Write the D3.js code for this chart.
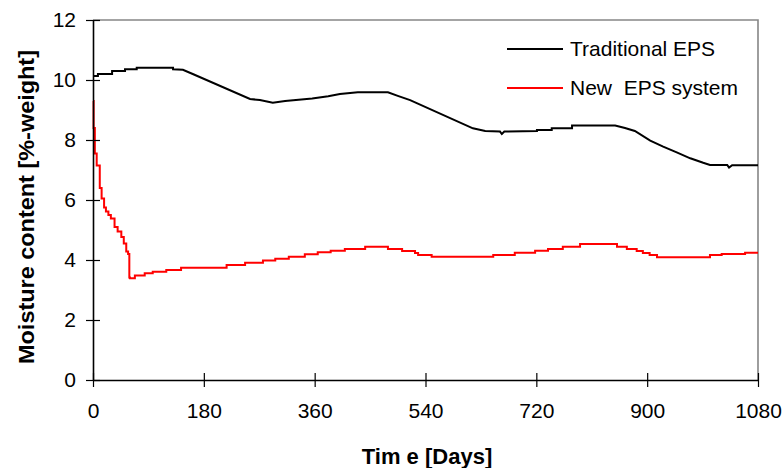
<!DOCTYPE html>
<html>
<head>
<meta charset="utf-8">
<script src="https://cdn.jsdelivr.net/npm/d3@7"></script>
<style>
  html, body { margin: 0; padding: 0; background: #fff; }
  svg { display: block; font-family: "Liberation Sans", Arial, sans-serif; }
</style>
</head>
<body>
<svg id="chart" width="783" height="468"></svg>
<script>
// Moisture content over time for two EPS systems
const xTicks = [0, 180, 360, 540, 720, 900, 1080];
const yTicks = [0, 2, 4, 6, 8, 10, 12];

// Traditional EPS: day and moisture %-weight (drawn point to point)
const traditionalDays = [0, 8, 8, 31, 31, 52, 52, 71, 71, 130, 130, 146, 162, 255, 271, 292, 312, 356, 382, 401, 430, 479, 495, 515, 617, 637, 661, 664, 668, 721, 721, 745, 745, 778, 778, 848, 864, 880, 905, 926, 948, 970, 991, 1002, 1030, 1033, 1038, 1080];
const traditionalValues = [10.13, 10.13, 10.2, 10.2, 10.3, 10.3, 10.36, 10.36, 10.41, 10.41, 10.36, 10.34, 10.2, 9.37, 9.33, 9.24, 9.3, 9.38, 9.46, 9.53, 9.59, 9.59, 9.47, 9.33, 8.39, 8.3, 8.28, 8.2, 8.28, 8.3, 8.33, 8.33, 8.39, 8.39, 8.48, 8.48, 8.4, 8.3, 7.98, 7.78, 7.59, 7.39, 7.24, 7.17, 7.17, 7.08, 7.16, 7.16];

// New EPS system: day and moisture %-weight (held until the next reading)
const newDays = [0, 1, 3, 6, 11, 14, 18, 21, 25, 29, 35, 40, 46, 50, 54, 57, 59, 60, 68, 84, 97, 119, 143, 217, 247, 276, 296, 318, 344, 365, 386, 409, 442, 479, 502, 523, 528, 550, 650, 685, 718, 739, 763, 791, 851, 867, 883, 893, 904, 916, 1002, 1021, 1059, 1080];
const newValues = [9.3, 8.4, 7.55, 7.15, 6.4, 6.05, 5.75, 5.62, 5.5, 5.38, 5.1, 4.95, 4.77, 4.55, 4.28, 4.2, 3.42, 3.39, 3.48, 3.56, 3.61, 3.67, 3.74, 3.83, 3.91, 3.98, 4.04, 4.11, 4.19, 4.26, 4.31, 4.37, 4.44, 4.37, 4.3, 4.23, 4.17, 4.11, 4.17, 4.24, 4.31, 4.37, 4.44, 4.53, 4.44, 4.37, 4.3, 4.23, 4.17, 4.09, 4.17, 4.2, 4.24, 4.24];

const seriesNames = ["Traditional EPS", "New  EPS system"];
const seriesColors = ["#000000", "#ff0000"];

const svg = d3.select("#chart");
const plot = { left: 93, right: 758, top: 20, bottom: 380 };

const x = d3.scaleLinear().domain([0, 1080]).range([plot.left, plot.right]);
const y = d3.scaleLinear().domain([0, 12]).range([plot.bottom, plot.top]);

// Grey frame on top and right
svg.append("path")
  .attr("d", `M${plot.left},${plot.top}H${plot.right}V${plot.bottom}`)
  .attr("fill", "none")
  .attr("stroke", "#868686")
  .attr("stroke-width", 1.6);

// Series lines
const linearLine = d3.line().x(d => x(d[0])).y(d => y(d[1]));
const stepLine = d3.line().x(d => x(d[0])).y(d => y(d[1])).curve(d3.curveStepAfter);

const series = [
  { pts: d3.zip(traditionalDays, traditionalValues), gen: linearLine, color: seriesColors[0] },
  { pts: d3.zip(newDays, newValues), gen: stepLine, color: seriesColors[1] }
];

svg.append("g").selectAll("path")
  .data(series)
  .join("path")
  .attr("d", d => d.gen(d.pts))
  .attr("fill", "none")
  .attr("stroke", d => d.color)
  .attr("stroke-width", 2)
  .attr("stroke-linejoin", "miter");

// Y axis with ticks crossing the line
const yAxis = svg.append("g")
  .attr("transform", `translate(${plot.left},0)`)
  .call(d3.axisLeft(y).tickValues(yTicks).tickSize(7).tickPadding(10).tickSizeOuter(0));
yAxis.selectAll(".tick line").attr("x2", -7).attr("x1", 7);

// X axis with ticks crossing the line
const xAxis = svg.append("g")
  .attr("transform", `translate(0,${plot.bottom})`)
  .call(d3.axisBottom(x).tickValues(xTicks).tickFormat(d3.format("d")).tickSize(7).tickPadding(16).tickSizeOuter(0));
xAxis.selectAll(".tick line").attr("y1", -7).attr("y2", 7);

[yAxis, xAxis].forEach(ax => {
  ax.select(".domain").attr("stroke", "#000").attr("stroke-width", 1.6);
  ax.selectAll(".tick line").attr("stroke", "#000").attr("stroke-width", 1.2);
  ax.selectAll("text")
    .attr("fill", "#000")
    .style("font-family", "'Liberation Sans', Arial, sans-serif")
    .style("font-size", "21px");
});

// Axis titles
svg.append("text")
  .attr("transform", "translate(34,207) rotate(-90)")
  .attr("text-anchor", "middle")
  .attr("textLength", 314)
  .attr("lengthAdjust", "spacingAndGlyphs")
  .style("font-size", "22px")
  .style("font-weight", "bold")
  .text("Moisture content [%-weight]");

svg.append("text")
  .attr("x", 427)
  .attr("y", 464)
  .attr("text-anchor", "middle")
  .style("font-size", "22px")
  .style("font-weight", "bold")
  .style("white-space", "pre")
  .text("Tim e [Days]");

// Legend
const legend = svg.append("g").attr("transform", "translate(507,49)");
const items = legend.selectAll("g")
  .data(seriesNames)
  .join("g")
  .attr("transform", (d, i) => `translate(0,${i * 39})`);
items.append("line")
  .attr("x1", 0).attr("x2", 56)
  .attr("stroke", (d, i) => seriesColors[i])
  .attr("stroke-width", 2);
items.append("text")
  .attr("x", 63)
  .attr("dy", "0.35em")
  .style("font-size", "21px")
  .style("white-space", "pre")
  .text(d => d);
</script>
</body>
</html>
